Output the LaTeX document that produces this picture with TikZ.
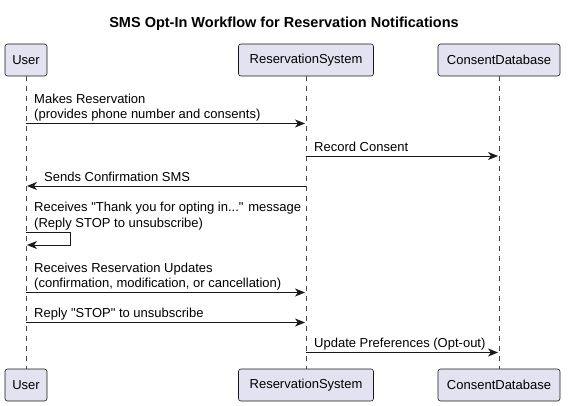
\documentclass[tikz,border=0pt]{standalone}
\usepackage{fontspec}
\setmainfont{Liberation Sans}
\usetikzlibrary{arrows.meta}
\definecolor{boxfill}{HTML}{E2E2F0}
\definecolor{boxline}{HTML}{181818}
\tikzset{
  part/.style={draw=boxline, fill=boxfill, rounded corners=2.5pt, line width=0.6pt, minimum height=32pt, inner xsep=5pt, font=\fontsize{13}{15}\selectfont, anchor=center},
  life/.style={draw=boxline!80, dashed, dash pattern=on 5pt off 5pt, line width=0.5pt},
  msg/.style={draw=boxline, line width=0.9pt, -{Stealth[length=10pt,width=8pt,inset=3pt]}},
  lbl/.style={font=\fontsize{13}{15.3}\selectfont, align=left, inner sep=0pt, anchor=south west},
}
\begin{document}
\begin{tikzpicture}[x=1pt,y=-1pt]
\useasboundingbox (0,0) rectangle (568,406);
\node[font=\bfseries\fontsize{14.5}{16}\selectfont] (title) at (284,23.5) {SMS Opt-In Workflow for Reservation Notifications};
% top participants
\node[part, minimum width=42pt] (u1) at (26,60) {User};
\node[part, minimum width=135pt] (r1) at (306,60) {ReservationSystem};
\node[part, minimum width=122pt] (c1) at (499,60) {ConsentDatabase};
% bottom participants
\node[part, minimum width=42pt] (u2) at (26,385) {User};
\node[part, minimum width=135pt] (r2) at (306,385) {ReservationSystem};
\node[part, minimum width=122pt] (c2) at (499,385) {ConsentDatabase};
\draw[life] (u1.south) -- (u2.north);
\draw[life] (r1.south) -- (r2.north);
\draw[life] (c1.south) -- (c2.north);
% message anchors
\coordinate (m1s) at (26,123.5); \coordinate (m1e) at (305,123.5);
\coordinate (m2s) at (306,156); \coordinate (m2e) at (498,156);
\coordinate (m3s) at (306,186); \coordinate (m3e) at (27,186);
\coordinate (m4a) at (26,232); \coordinate (m4b) at (70,232); \coordinate (m4c) at (70,245); \coordinate (m4d) at (27,245);
\coordinate (m5s) at (26,292.5); \coordinate (m5e) at (305,292.5);
\coordinate (m6s) at (26,322.5); \coordinate (m6e) at (305,322.5);
\coordinate (m7s) at (306,352.5); \coordinate (m7e) at (498,352.5);
\draw[msg] (m1s) -- (m1e);
\node[lbl] (t1) at (34,123.3) {Makes Reservation\\(provides phone number and consents)\strut};
\draw[msg] (m2s) -- (m2e);
\node[lbl] (t2) at (314,155.8) {Record Consent\strut};
\draw[msg] (m3s) -- (m3e);
\node[lbl] (t3) at (44,185.8) {Sends Confirmation SMS\strut};
\draw[msg] (m4a) -- (m4b) -- (m4c) -- (m4d);
\node[lbl] (t4) at (34,231.8) {Receives \textquotedbl Thank you for opting in...\textquotedbl{} message\\(Reply STOP to unsubscribe)\strut};
\draw[msg] (m5s) -- (m5e);
\node[lbl] (t5) at (34,292.3) {Receives Reservation Updates\\(confirmation, modification, or cancellation)\strut};
\draw[msg] (m6s) -- (m6e);
\node[lbl] (t6) at (34,322.3) {Reply \textquotedbl STOP\textquotedbl{} to unsubscribe\strut};
\draw[msg] (m7s) -- (m7e);
\node[lbl] (t7) at (314,352.3) {Update Preferences (Opt-out)\strut};
\end{tikzpicture}
\end{document}
